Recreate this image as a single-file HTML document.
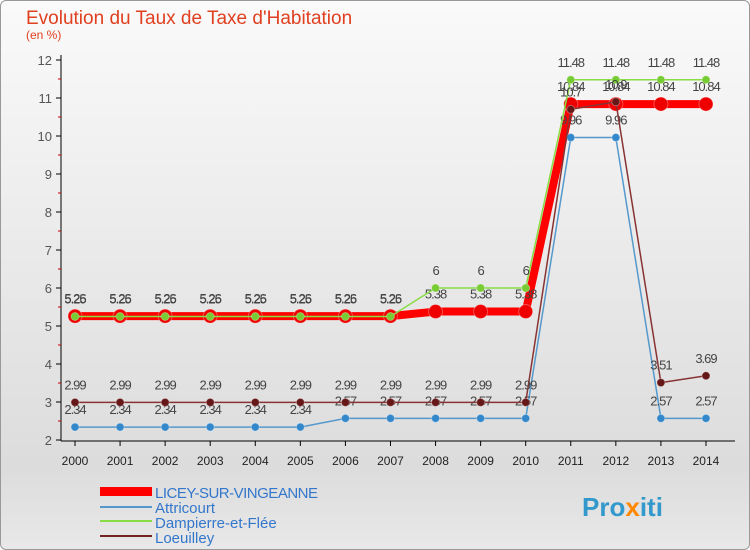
<!DOCTYPE html>
<html><head><meta charset="utf-8"><style>
body{margin:0;width:750px;height:550px;overflow:hidden;font-family:"Liberation Sans",sans-serif}
#bg{position:absolute;left:0;top:0;width:748px;height:548px;border:1px solid #999;border-radius:6px;background:linear-gradient(#fafafa,#dcdcdc 85%,#e8e8e8)}
</style></head><body>
<div id="bg"></div>
<svg id="c" width="750" height="550" style="position:absolute;left:0;top:0" font-family="Liberation Sans, sans-serif">
<text x="26" y="24" font-size="19" fill="#e04020">Evolution du Taux de Taxe d'Habitation</text>
<text x="26" y="39" font-size="12" fill="#e04020">(en %)</text>
<g id="axes"></g><g id="series"></g>
<g>
<rect x="100" y="487" width="52" height="9" fill="#f00"/>
<text x="155" y="498" font-size="15" fill="#3377cc" letter-spacing="-0.5">LICEY-SUR-VINGEANNE</text>
<rect x="100" y="506" width="52" height="2" fill="#5599cc"/>
<text x="155" y="513" font-size="15" fill="#3377cc">Attricourt</text>
<rect x="100" y="520" width="52" height="2" fill="#88dd44"/>
<text x="155" y="528" font-size="15" fill="#3377cc">Dampierre-et-Flée</text>
<rect x="100" y="535" width="52" height="2" fill="#772222"/>
<text x="155" y="543" font-size="15" fill="#3377cc">Loeuilley</text>
</g>
<text x="582" y="516" font-size="26" font-weight="bold" fill="#3399cc">Pro<tspan fill="#ff8800">x</tspan>iti</text>
</svg>
<script>
const years=[2000,2001,2002,2003,2004,2005,2006,2007,2008,2009,2010,2011,2012,2013,2014];
const yTicks=[2,3,4,5,6,7,8,9,10,11,12];
const licey=[5.26,5.26,5.26,5.26,5.26,5.26,5.26,5.26,5.38,5.38,5.38,10.84,10.84,10.84,10.84];
const attricourt=[2.34,2.34,2.34,2.34,2.34,2.34,2.57,2.57,2.57,2.57,2.57,9.96,9.96,2.57,2.57];
const dampierre=[5.25,5.25,5.25,5.25,5.25,5.25,5.25,5.25,6,6,6,11.48,11.48,11.48,11.48];
const loeuilley=[2.99,2.99,2.99,2.99,2.99,2.99,2.99,2.99,2.99,2.99,2.99,10.7,10.9,3.51,3.69];
const NS="http://www.w3.org/2000/svg";
const xS=i=>75+i*45.07, yS=v=>440-(v-2)*38;
function mk(t,a,p){const e=document.createElementNS(NS,t);for(const k in a)e.setAttribute(k,a[k]);p.appendChild(e);return e;}
const ax=document.getElementById('axes');
let l=mk('line',{x1:61,y1:55,x2:61,y2:441,stroke:'#000'},ax);


l=mk('line',{x1:61,y1:441,x2:735,y2:441,stroke:'#000'},ax);


yTicks.forEach(v=>{mk('line',{x1:56,x2:61,y1:yS(v),y2:yS(v),stroke:'#000'},ax);
 if(v<12)mk('line',{x1:58,x2:61,y1:yS(v+0.5),y2:yS(v+0.5),stroke:'#c00'},ax);
 const t=mk('text',{x:52,y:yS(v)+5,'font-size':13,fill:'#555','text-anchor':'end'},ax);t.textContent=v;
 
 });
years.forEach((y,i)=>{mk('line',{x1:xS(i),x2:xS(i),y1:441,y2:446,stroke:'#000'},ax);
 const t=mk('text',{x:xS(i),y:465,'font-size':12,fill:'#222','text-anchor':'middle'},ax);t.textContent=y;
 
 });
const sg=document.getElementById('series');
function series(d,name,col,w,r,fill){
 const g=mk('g',{},sg);
 
 
 mk('polyline',{points:d.map((v,i)=>xS(i)+','+yS(v)).join(' '),fill:'none',stroke:col,'stroke-width':w,'stroke-linejoin':'round'},g);
 d.forEach((v,i)=>{const c=mk('circle',{cx:xS(i),cy:yS(v),r:r,fill:fill,stroke:'#fff','stroke-opacity':0.3},g);
  
  
  const t=mk('text',{x:xS(i),y:yS(v)-13,'font-size':13,fill:'#444','text-anchor':'middle','letter-spacing':'-1'},g);t.textContent=String(v);
  
  });
}
series(licey,'licey','#f00',8,7,'#e00');
series(attricourt,'attricourt','#5599cc',1.5,4,'#3388cc');
series(dampierre,'dampierre','#88dd44',1.5,4,'#77cc33');
series(loeuilley,'loeuilley','#883333',1.5,4,'#661818');
</script>
</body></html>
